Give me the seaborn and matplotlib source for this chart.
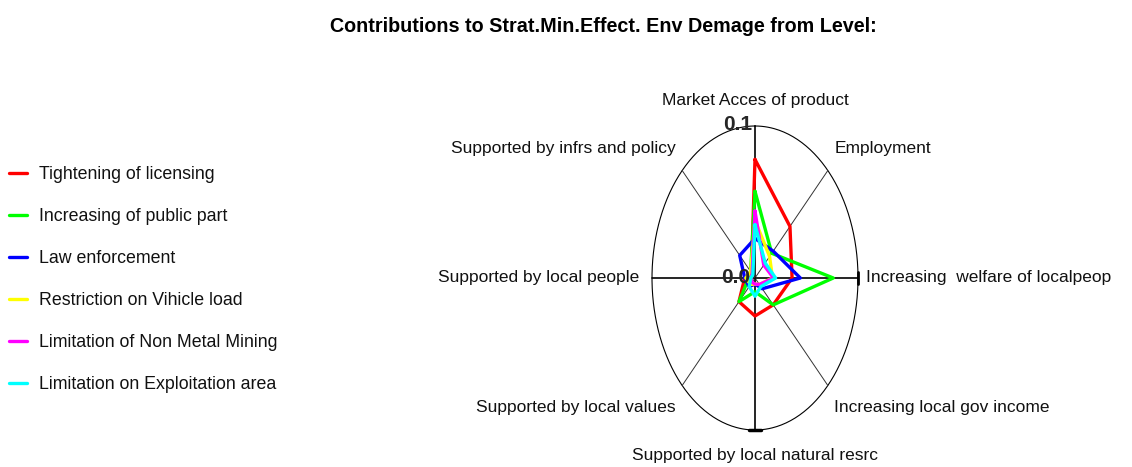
import numpy as np
import pandas as pd
import matplotlib
matplotlib.use("Agg")
import matplotlib.pyplot as plt
import seaborn as sns

sns.set_style("white")
plt.rcParams['font.family'] = ['Liberation Sans', 'DejaVu Sans']

title = "Contributions to Strat.Min.Effect. Env Demage from Level:"

axes_labels = [
    "Market Acces of product",
    "Employment",
    "Increasing  welfare of localpeop",
    "Increasing local gov income",
    "Supported by local natural resrc",
    "Supported by local values",
    "Supported by local people",
    "Supported by infrs and policy",
]

series_names = [
    "Tightening of licensing",
    "Increasing of public part",
    "Law enforcement",
    "Restriction on Vihicle load",
    "Limitation of Non Metal Mining",
    "Limitation on Exploitation area",
]

tightening = [0.078, 0.048, 0.036, 0.025, 0.025, 0.022, 0.010, 0.005]
public_part = [0.057, 0.023, 0.076, 0.025, 0.009, 0.022, 0.006, 0.006]
law_enf = [0.026, 0.025, 0.044, 0.010, 0.004, 0.008, 0.010, 0.021]
vehicle = [0.038, 0.020, 0.017, 0.006, 0.004, 0.006, 0.009, 0.006]
non_metal = [0.044, 0.012, 0.018, 0.006, 0.004, 0.004, 0.004, 0.004]
exploit = [0.035, 0.014, 0.020, 0.008, 0.012, 0.008, 0.004, 0.003]

series_values = [tightening, public_part, law_enf, vehicle, non_metal, exploit]
colors = ["#ff0000", "#00ff00", "#0000ff", "#ffff00", "#ff00ff", "#00ffff"]

r_max = 0.1
tick_labels = ["0.0", "0.1"]

n = len(axes_labels)
theta = np.arange(n) * 2 * np.pi / n  # clockwise from top

rows = []
for name, vals in zip(series_names, series_values):
    for i in range(n + 1):
        k = i % n
        rows.append({"series": name, "order": i,
                     "x": vals[k] * np.sin(theta[k]),
                     "y": vals[k] * np.cos(theta[k])})
df = pd.DataFrame(rows)

fig = plt.figure(figsize=(11.32, 4.67), dpi=100)
ax = fig.add_axes([652 / 1132, 1 - 430 / 467, 206 / 1132, 304 / 467])
ax.set_xlim(-r_max, r_max)
ax.set_ylim(-r_max, r_max)
ax.axis("off")

# outer circle
t = np.linspace(0, 2 * np.pi, 400)
ax.plot(r_max * np.sin(t), r_max * np.cos(t), color="black", lw=0.8, clip_on=False)
# spokes
for k in range(n):
    lw = 1.2 if k % 2 == 0 else 0.7
    col = "black" if k % 2 == 0 else "#333333"
    ax.plot([0, r_max * np.sin(theta[k])], [0, r_max * np.cos(theta[k])],
            color=col, lw=lw, clip_on=False)
# end markers on right and bottom
ax.plot([r_max, r_max], [-0.004, 0.004], color="black", lw=2, clip_on=False)
ax.plot([-0.006, 0.006], [-r_max, -r_max], color="black", lw=2.5, clip_on=False)

sns.lineplot(data=df, x="x", y="y", hue="series", hue_order=series_names,
             palette=colors, sort=False, estimator=None, units="series",
             lw=2.4, ax=ax, legend=False, clip_on=False)

ax.text(-0.003, r_max + 0.001, tick_labels[1], ha="right", va="center",
        fontsize=15, fontweight="bold")
ax.text(-0.005, 0.0, tick_labels[0], ha="right", va="center",
        fontsize=15, fontweight="bold")

label_pos = [
    (0.0, 0.117, "center"),
    (0.077, 0.085, "left"),
    (0.108, 0.0, "left"),
    (0.077, -0.085, "left"),
    (0.0, -0.117, "center"),
    (-0.077, -0.085, "right"),
    (-0.112, 0.0, "right"),
    (-0.077, 0.085, "right"),
]
for lab, (lx, ly, ha) in zip(axes_labels, label_pos):
    ax.text(lx, ly, lab, ha=ha, va="center", fontsize=12.5, clip_on=False,
            color="#111111")

fig.text(603 / 1132, 1 - 27 / 467, title, ha="center", va="center",
         fontsize=14.2, fontweight="bold", color="black")

handles = [plt.Line2D([0], [0], color=c, lw=2.4) for c in colors]
leg = fig.legend(handles, series_names, loc="upper left",
                 bbox_to_anchor=(0.0, 1 - 157 / 467), frameon=False,
                 fontsize=12.8, handlelength=1.0, handletextpad=0.7,
                 labelspacing=1.41, borderaxespad=0.2, borderpad=0.3)
for txt in leg.get_texts():
    txt.set_color("#111111")

fig.savefig("out.png", dpi=100)
